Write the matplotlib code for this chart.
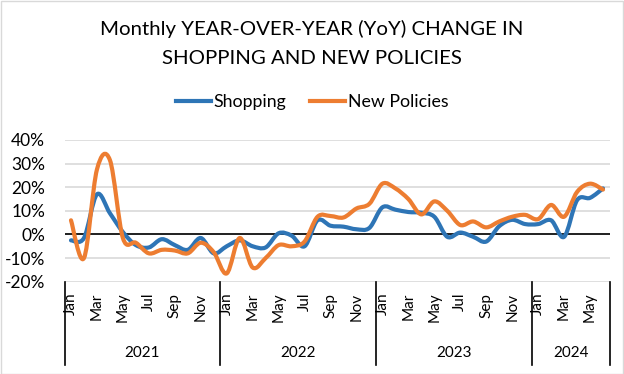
import matplotlib
matplotlib.use("Agg")
import matplotlib.pyplot as plt
from matplotlib.path import Path
from matplotlib.patches import PathPatch, Rectangle
from matplotlib.lines import Line2D
import numpy as np

plt.rcParams['font.family'] = ['Lato', 'DejaVu Sans']

# monthly YoY change, Jan 2021 .. Jun 2024 (percent)
months = ["Jan", "Feb", "Mar", "Apr", "May", "Jun", "Jul", "Aug", "Sep", "Oct", "Nov", "Dec"] * 3 + \
         ["Jan", "Feb", "Mar", "Apr", "May", "Jun"]
years = ["2021", "2022", "2023", "2024"]
year_lengths = [12, 12, 12, 6]

shopping = [-2.5, -1.5, 17, 9, 1, -4.5, -5.5, -2, -4.5, -6.5, -1.5, -8,
            -5, -2.5, -5, -5.5, 0.5, -0.5, -5, 6, 3.7, 3.3, 2.2, 2.8,
            11.5, 10.5, 9.5, 9.2, 7.5, -1, 0.8, -1, -3, 3.5, 6.2, 4.4,
            4.4, 6, -1, 14.5, 15.5, 19.5]
new_policies = [6, -10, 27.5, 31.5, -1.5, -3.5, -8, -6.5, -6.8, -8, -3.5, -7.5,
                -16.5, -1.5, -14, -10, -4.5, -5, -3, 7.5, 7.8, 7.2, 11, 13,
                21.5, 19.5, 15, 8.5, 14, 10, 4, 5.5, 3, 5.5, 7.5, 8.3,
                6.5, 12.5, 7.5, 18, 21.5, 19]

BLUE = "#2E75B6"
ORANGE = "#ED7D31"


def smooth_path(x, y):
    # excel-like smoothed line: cubic bezier through every point
    n = len(x)
    verts = [(x[0], y[0])]
    codes = [Path.MOVETO]
    for i in range(n - 1):
        a = max(i - 1, 0)
        b = min(i + 2, n - 1)
        c1 = (x[i] + (x[i + 1] - x[a]) / 6, y[i] + (y[i + 1] - y[a]) / 6)
        c2 = (x[i + 1] - (x[b] - x[i]) / 6, y[i + 1] - (y[b] - y[i]) / 6)
        verts += [c1, c2, (x[i + 1], y[i + 1])]
        codes += [Path.CURVE4] * 3
    return Path(verts, codes)


fig = plt.figure(figsize=(6.24, 3.74), dpi=100)
fig.patches.append(Rectangle((0.001, 0.001), 0.997, 0.996, transform=fig.transFigure,
                             fill=False, edgecolor="#d9d9d9", lw=1))
ax = fig.add_axes([64.5 / 624, 1 - 281.7 / 374, 545 / 624, 141.7 / 374])

x = np.arange(len(months))
for series, color, name in [(shopping, BLUE, "Shopping"), (new_policies, ORANGE, "New Policies")]:
    ax.add_patch(PathPatch(smooth_path(x, np.array(series, float)), fill=False,
                           edgecolor=color, lw=3, capstyle="round", joinstyle="round", zorder=3))

ax.set_xlim(-0.5, len(months) - 0.5)
ax.set_ylim(-20, 40)
ax.set_yticks(range(-20, 41, 10))
ax.set_yticklabels([f"{v}%" for v in range(-20, 41, 10)], fontsize=12.5)
ax.tick_params(axis="y", length=0, pad=14)
ax.grid(axis="y", color="#d9d9d9", lw=1.2)
ax.axhline(0, color="black", lw=1.2, zorder=2)
for s in ax.spines.values():
    s.set_visible(False)

ax.set_xticks(x[::2])
ax.set_xticklabels(months[::2], rotation=90, fontsize=11, va="top")
ax.tick_params(axis="x", length=0, pad=8)

# year separators and labels
trans = ax.get_xaxis_transform()
edges = np.concatenate([[0], np.cumsum(year_lengths)]) - 0.5
for e in edges:
    ax.plot([e, e], [0, -0.588], color="black", lw=1.2, transform=trans, clip_on=False)
for yr, a, b in zip(years, edges[:-1], edges[1:]):
    ax.text((a + b) / 2, -0.503, yr, transform=trans, ha="center", va="center", fontsize=11)

fig.text(0.5, 1 - 29 / 374, "Monthly YEAR-OVER-YEAR (YoY) CHANGE IN", ha="center", va="center", fontsize=14.7)
fig.text(0.5, 1 - 58 / 374, "SHOPPING AND NEW POLICIES", ha="center", va="center", fontsize=14.7)

handles = [Line2D([], [], color=BLUE, lw=3), Line2D([], [], color=ORANGE, lw=3)]
fig.legend(handles, ["Shopping", "New Policies"], ncol=2, loc="center",
           bbox_to_anchor=(0.5, 1 - 102 / 374), frameon=False, fontsize=12.8,
           handlelength=2.0, handletextpad=0.15, columnspacing=1.3)

fig.savefig("out.png", dpi=100)
